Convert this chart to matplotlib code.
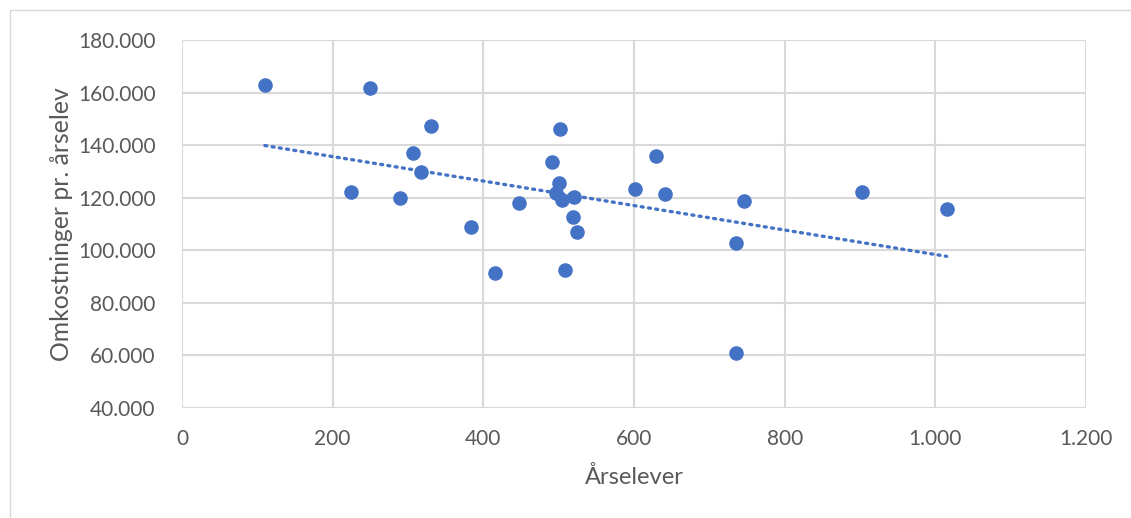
"""Scatter of cost per student-year vs. student-years, with linear trendline."""

import matplotlib

matplotlib.use("Agg")

import matplotlib.pyplot as plt
import numpy as np
from matplotlib.patches import Rectangle
from matplotlib.ticker import FuncFormatter, MultipleLocator

# Data
aarselever = [110, 250, 331, 306, 317, 225, 289, 383, 415, 447,
              502, 491, 501, 497, 504, 521, 519, 524, 508, 602,
              629, 641, 736, 736, 746, 903, 1015]
omkostninger = [162900, 161800, 147300, 137100, 129600, 122100, 119700, 108700, 91400, 117800,
                146300, 133500, 125700, 121900, 119200, 120100, 112700, 107100, 92500, 123400,
                135800, 121400, 102700, 60900, 118800, 122200, 115800]

BLUE = "#4472C4"
GRID = "#d9d9d9"
TEXT = "#595959"

plt.rcParams["font.family"] = ["Lato", "DejaVu Sans"]

fig = plt.figure(figsize=(11.31, 5.18), dpi=100)
ax = fig.add_axes([0.1609, 0.2124, 0.7993, 0.7104])

# outer chart frame
fig.patches.append(Rectangle((10 / 1131, -0.01), 1.1, 1 - 10 / 518 + 0.01,
                             transform=fig.transFigure, fill=False,
                             edgecolor="#d9d9d9", linewidth=1.0))

x = np.array(aarselever, dtype=float)
y = np.array(omkostninger, dtype=float)

ax.scatter(x, y, s=110, color=BLUE, zorder=3, linewidths=0)

# linear trendline over the data range
k, m = np.polyfit(x, y, 1)
xs = np.array([x.min(), x.max()])
ax.plot(xs, k * xs + m, linestyle=(0, (0.6, 1.6)), color=BLUE,
        linewidth=2.4, dash_capstyle="round", zorder=2)

ax.set_xlim(0, 1200)
ax.set_ylim(40000, 180000)
ax.xaxis.set_major_locator(MultipleLocator(200))
ax.yaxis.set_major_locator(MultipleLocator(20000))
fmt = FuncFormatter(lambda v, _: f"{v:,.0f}".replace(",", "."))
ax.xaxis.set_major_formatter(fmt)
ax.yaxis.set_major_formatter(fmt)

ax.grid(True, color=GRID, linewidth=1.5, zorder=0)
ax.set_axisbelow(True)
for s in ax.spines.values():
    s.set_visible(False)
ax.tick_params(length=0, labelsize=15, colors=TEXT)
ax.tick_params(axis="y", pad=19)
ax.tick_params(axis="x", pad=15)

ax.set_xlabel("Årselever", fontsize=17, color=TEXT)
ax.set_ylabel("Omkostninger pr. årselev", fontsize=17.8, color=TEXT)
ax.xaxis.set_label_coords(0.5, -0.158)
ax.yaxis.set_label_coords(-0.1206, 0.5)

fig.savefig("out.png", dpi=100)
